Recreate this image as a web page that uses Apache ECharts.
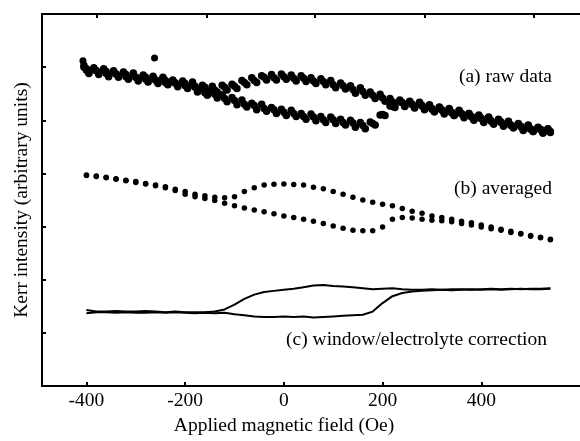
<!DOCTYPE html>
<html>
<head>
<meta charset="utf-8">
<script src="https://cdn.jsdelivr.net/npm/echarts@6/dist/echarts.min.js"></script>
<style>
  html, body { margin: 0; padding: 0; background: #fff; }
  #kerr-loop { width: 580px; height: 441px; }
</style>
</head>
<body>
<div id="kerr-loop"></div>
<script>
  // applied field values (Oe)
  var fieldRawA = [-405, -385, -365, -345, -325, -305, -285, -265, -245, -225, -205, -185, -165, -145, -125, -105, -85, -65, -45, -25, -5, 15, 35, 55, 75, 95, 115, 135, 155, 175, 195, 215, 235, 255, 275, 295, 315, 335, 355, 375, 395, 415, 435, 455, 475, 495, 515, 535]
  var fieldRawB = [-395, -375, -355, -335, -315, -295, -275, -255, -235, -215, -195, -175, -155, -135, -115, -95, -75, -55, -35, -15, 5, 25, 45, 65, 85, 105, 125, 145, 165, 185, 205, 225, 245, 265, 285, 305, 325, 345, 365, 385, 405, 425, 445, 465, 485, 505, 525]
  var fieldAvg = [-400, -380, -360, -340, -320, -300, -280, -260, -240, -220, -200, -180, -160, -140, -120, -100, -80, -60, -40, -20, 0, 20, 40, 60, 80, 100, 120, 140, 160, 180, 200, 220, 240, 260, 280, 300, 320, 340, 360, 380, 400, 420, 440, 460, 480, 500, 520, 540]

  // (a) raw data, three sweeps per branch
  var rawUpA = [6.03, 5.99, 5.97, 5.93, 5.91, 5.89, 5.85, 5.83, 5.81, 5.76, 5.74, 5.72, 5.66, 5.64, 5.66, 5.68, 5.75, 5.80, 5.84, 5.86, 5.87, 5.85, 5.84, 5.80, 5.78, 5.75, 5.70, 5.65, 5.61, 5.53, 5.49, 5.41, 5.38, 5.36, 5.34, 5.29, 5.25, 5.22, 5.19, 5.13, 5.10, 5.06, 5.02, 4.98, 4.94, 4.91, 4.87, 4.84]
  var rawUpB = [5.90, 5.89, 5.84, 5.83, 5.79, 5.77, 5.73, 5.72, 5.68, 5.66, 5.62, 5.60, 5.55, 5.53, 5.57, 5.60, 5.67, 5.71, 5.76, 5.76, 5.77, 5.74, 5.73, 5.69, 5.67, 5.61, 5.59, 5.51, 5.47, 5.41, 5.36, 5.29, 5.27, 5.24, 5.21, 5.16, 5.14, 5.09, 5.07, 5.01, 4.98, 4.93, 4.91, 4.86, 4.82, 4.79, 4.76]
  var rawUpC = [5.97, 5.93, 5.92, 5.87, 5.86, 5.81, 5.81, 5.76, 5.75, 5.70, 5.69, 5.64, 5.62, 5.57, 5.62, 5.64, 5.71, 5.75, 5.81, 5.80, 5.82, 5.79, 5.79, 5.74, 5.73, 5.67, 5.65, 5.58, 5.54, 5.47, 5.42, 5.35, 5.33, 5.30, 5.28, 5.22, 5.20, 5.15, 5.13, 5.07, 5.04, 4.99, 4.97, 4.91, 4.89, 4.84, 4.83, 4.79]
  var rawLoA = [6.00, 5.97, 5.95, 5.91, 5.90, 5.86, 5.83, 5.80, 5.79, 5.74, 5.71, 5.68, 5.60, 5.55, 5.48, 5.43, 5.38, 5.32, 5.30, 5.24, 5.21, 5.19, 5.13, 5.12, 5.07, 5.06, 5.02, 5.00, 4.96, 4.97, 5.10, 5.27, 5.36, 5.35, 5.33, 5.28, 5.24, 5.21, 5.17, 5.13, 5.08, 5.05, 5.01, 4.97, 4.93, 4.90, 4.86, 4.83]
  var rawLoB = [5.88, 5.86, 5.82, 5.81, 5.77, 5.74, 5.72, 5.69, 5.67, 5.63, 5.60, 5.53, 5.47, 5.42, 5.35, 5.29, 5.25, 5.20, 5.17, 5.13, 5.09, 5.07, 5.02, 4.99, 4.96, 4.94, 4.91, 4.87, 4.84, 4.91, 5.09, 5.24, 5.26, 5.23, 5.20, 5.16, 5.12, 5.09, 5.05, 5.00, 4.96, 4.93, 4.89, 4.86, 4.81, 4.79, 4.76]
  var rawLoC = [5.94, 5.93, 5.88, 5.87, 5.82, 5.81, 5.77, 5.76, 5.71, 5.70, 5.65, 5.62, 5.52, 5.49, 5.41, 5.37, 5.30, 5.28, 5.22, 5.20, 5.15, 5.13, 5.07, 5.06, 5.01, 5.01, 4.96, 4.95, 4.90, 4.94, 5.11, 5.26, 5.33, 5.29, 5.27, 5.21, 5.19, 5.14, 5.12, 5.06, 5.03, 4.98, 4.96, 4.90, 4.88, 4.83, 4.82, 4.77]
  var rawStray = [[-407, 6.12], [-262, 6.17]]

  // (b) averaged
  var avgUpper = [3.97, 3.95, 3.93, 3.90, 3.87, 3.85, 3.81, 3.78, 3.75, 3.70, 3.66, 3.61, 3.58, 3.55, 3.54, 3.56, 3.66, 3.73, 3.78, 3.795, 3.80, 3.79, 3.78, 3.74, 3.71, 3.66, 3.61, 3.55, 3.50, 3.46, 3.42, 3.39, 3.34, 3.29, 3.25, 3.20, 3.17, 3.14, 3.10, 3.07, 3.03, 2.99, 2.95, 2.91, 2.87, 2.83, 2.80, 2.75]
  var avgLower = [3.96, 3.94, 3.92, 3.89, 3.86, 3.83, 3.80, 3.77, 3.73, 3.68, 3.61, 3.56, 3.53, 3.49, 3.44, 3.39, 3.35, 3.31, 3.28, 3.24, 3.20, 3.17, 3.14, 3.10, 3.06, 3.01, 2.97, 2.93, 2.92, 2.92, 2.99, 3.14, 3.17, 3.16, 3.14, 3.12, 3.11, 3.09, 3.06, 3.03, 2.99, 2.96, 2.93, 2.89, 2.86, 2.82, 2.79, 2.76]

  // (c) window/electrolyte correction
  var corrUpper = [1.43, 1.40, 1.40, 1.41, 1.40, 1.40, 1.41, 1.40, 1.39, 1.40, 1.39, 1.39, 1.39, 1.40, 1.44, 1.53, 1.64, 1.72, 1.77, 1.79, 1.81, 1.83, 1.86, 1.89, 1.90, 1.88, 1.87, 1.86, 1.84, 1.82, 1.83, 1.84, 1.82, 1.81, 1.81, 1.82, 1.81, 1.82, 1.82, 1.81, 1.82, 1.83, 1.82, 1.83, 1.82, 1.83, 1.83, 1.84]
  var corrLower = [1.37, 1.39, 1.39, 1.38, 1.39, 1.38, 1.38, 1.39, 1.38, 1.39, 1.38, 1.37, 1.38, 1.37, 1.38, 1.35, 1.33, 1.31, 1.30, 1.30, 1.31, 1.30, 1.31, 1.29, 1.30, 1.31, 1.32, 1.33, 1.34, 1.40, 1.56, 1.69, 1.75, 1.78, 1.79, 1.80, 1.81, 1.80, 1.81, 1.82, 1.81, 1.82, 1.81, 1.82, 1.83, 1.82, 1.82, 1.83]

  var xTicks = [-400, -200, 0, 200, 400]
  var topTicks = [-379, -156, 63, 286, 507]

  var FONT = 'Liberation Serif'

  function pairs(xs, ys) {
    return xs.map(function (x, i) { return [x, ys[i]] })
  }

  function dots(data, size) {
    return {
      type: 'scatter',
      data: data,
      symbolSize: size,
      itemStyle: { color: '#000', opacity: 1 },
      silent: true
    }
  }

  function curve(data) {
    return {
      type: 'line',
      data: data,
      showSymbol: false,
      lineStyle: { color: '#000', width: 2 },
      silent: true
    }
  }

  var myChart = echarts.init(document.getElementById('kerr-loop'))
  myChart.setOption({
    animation: false,
    backgroundColor: '#fff',
    grid: { left: 42, top: 14, right: 0, bottom: 55 },
    xAxis: [
      {
        type: 'value',
        position: 'bottom',
        min: -490,
        max: 600,
        name: 'Applied magnetic field (Oe)',
        nameLocation: 'middle',
        nameGap: 26,
        nameTextStyle: { fontFamily: FONT, fontSize: 19.5, color: '#000', padding: [0, 54, 0, 0] },
        axisLine: { onZero: false, lineStyle: { color: '#000', width: 2 } },
        axisTick: { inside: true, length: 4, customValues: xTicks, lineStyle: { color: '#000', width: 2 } },
        axisLabel: { customValues: xTicks, fontFamily: FONT, fontSize: 19.5, color: '#000', margin: 5 },
        splitLine: { show: false }
      },
      {
        type: 'value',
        position: 'top',
        min: -490,
        max: 600,
        axisLine: { onZero: false, lineStyle: { color: '#000', width: 2 } },
        axisTick: { inside: true, length: 4, customValues: topTicks, lineStyle: { color: '#000', width: 2 } },
        axisLabel: { show: false },
        splitLine: { show: false }
      }
    ],
    yAxis: {
      type: 'value',
      position: 'left',
      min: 0,
      max: 7,
      interval: 1,
      name: 'Kerr intensity (arbitrary units)',
      nameLocation: 'middle',
      nameGap: 10,
      nameTextStyle: { fontFamily: FONT, fontSize: 19.5, color: '#000' },
      axisLine: { show: true, onZero: false, lineStyle: { color: '#000', width: 2 } },
      axisTick: { show: true, inside: true, length: 4, lineStyle: { color: '#000', width: 2 } },
      axisLabel: { show: false },
      splitLine: { show: false }
    },
    graphic: [
      { type: 'text', right: 28, top: 67, style: { text: '(a) raw data', font: '19.5px "Liberation Serif"', fill: '#000' } },
      { type: 'text', right: 28, top: 179, style: { text: '(b) averaged', font: '19.5px "Liberation Serif"', fill: '#000' } },
      { type: 'text', right: 33, top: 330, style: { text: '(c) window/electrolyte correction', font: '19.5px "Liberation Serif"', fill: '#000' } }
    ],
    series: [
      dots(pairs(fieldRawA, rawUpA), 7.5),
      dots(pairs(fieldRawB, rawUpB), 7.5),
      dots(pairs(fieldAvg, rawUpC), 7.5),
      dots(pairs(fieldRawA, rawLoA), 7.5),
      dots(pairs(fieldRawB, rawLoB), 7.5),
      dots(pairs(fieldAvg, rawLoC), 7.5),
      dots(rawStray, 7),
      dots(pairs(fieldAvg, avgUpper), 5.5),
      dots(pairs(fieldAvg, avgLower), 5.5),
      curve(pairs(fieldAvg, corrUpper)),
      curve(pairs(fieldAvg, corrLower))
    ]
  })
</script>
</body>
</html>
